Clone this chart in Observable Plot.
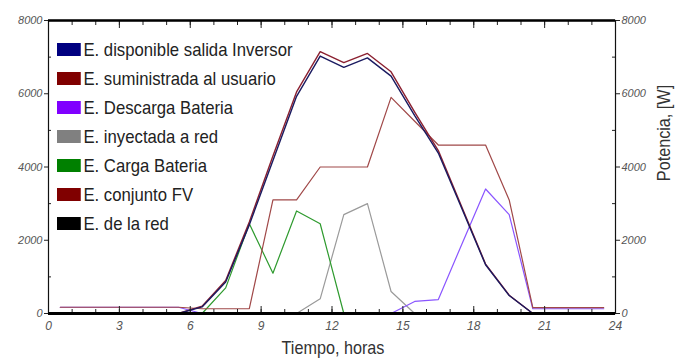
<!DOCTYPE html>
<html><head><meta charset="utf-8">
<script src="https://cdn.jsdelivr.net/npm/d3@7"></script>
<script src="https://cdn.jsdelivr.net/npm/@observablehq/plot@0.6"></script>
<style>
body{margin:0;background:#fff;}
#wrap{position:relative;width:681px;height:358px;overflow:hidden;}
#legend{position:absolute;left:57px;top:35px;font-family:"Liberation Sans",Arial,sans-serif;font-size:19px;color:#222;transform:scaleX(0.88);transform-origin:left top;}
.item{display:flex;align-items:center;height:29px;white-space:nowrap;}
.sw{width:27px;height:13px;margin-right:3px;}
</style></head>
<body><div id="wrap"><div id="legend"></div></div>
<script>
const hours = [0.5,1.5,2.5,3.5,4.5,5.5,6.5,7.5,8.5,9.5,10.5,11.5,12.5,13.5,14.5,15.5,16.5,17.5,18.5,19.5,20.5,21.5,22.5,23.5];
const fv        = [0,0,0,0,0,0,200,900,2500,4300,6050,7150,6850,7100,6600,5500,4450,2900,1350,500,0,0,0,0];
const inversor  = [0,0,0,0,0,0,180,860,2420,4180,5930,7030,6720,6980,6480,5400,4380,2860,1330,490,0,0,0,0];
const usuario   = [170,170,170,170,170,170,130,130,130,3100,3100,4000,4000,4000,5900,5250,4600,4600,4600,3100,160,160,160,160];
const descarga  = [170,170,170,170,170,170,0,0,0,0,0,0,0,0,0,330,380,1900,3400,2700,130,130,130,130];
const inyectada = [0,0,0,0,0,0,0,0,0,0,0,400,2700,3000,600,0,0,0,0,0,0,0,0,0];
const carga     = [0,0,0,0,0,0,0,700,2450,1100,2800,2450,0,0,0,0,0,0,0,0,0,0,0,0];
const red       = [0,0,0,0,0,0,0,0,0,0,0,0,0,0,0,0,0,0,0,0,0,0,0,0];
const xTicks = [0,3,6,9,12,15,18,21,24];
const xMinor = [0,1,2,3,4,5,6,7,8,9,10,11,12,13,14,15,16,17,18,19,20,21,22,23,24];
const yTicks = [0,2000,4000,6000,8000];
const yMinor = [1000,3000,5000,7000];

const legendItems = [
  {name:"E. disponible salida Inversor", color:"#000080"},
  {name:"E. suministrada al usuario", color:"#800000"},
  {name:"E. Descarga Bateria", color:"#8000ff"},
  {name:"E. inyectada a red", color:"#808080"},
  {name:"E. Carga Bateria", color:"#008000"},
  {name:"E. conjunto FV", color:"#800000"},
  {name:"E. de la red", color:"#000000"}
];
const series = [
  {name:"E. inyectada a red", color:"#9a9a9a", values:inyectada, w:1.2},
  {name:"E. Carga Bateria", color:"#2e9a2e", values:carga, w:1.2},
  {name:"E. Descarga Bateria", color:"#8a55ff", values:descarga, w:1.2},
  {name:"E. suministrada al usuario", color:"#a04848", values:usuario, w:1.2},
  {name:"E. conjunto FV", color:"#8b2030", values:fv, w:1.4},
  {name:"E. disponible salida Inversor", color:"#1a1a60", values:inversor, w:1.4},
  {name:"E. de la red", color:"#000000", values:red, w:3}
];
const rows = series.flatMap(s => hours.map((h,i)=>({serie:s.name, h, v:s.values[i]})));
const font = '"Liberation Sans",Arial,sans-serif';
const fmt = d => String(d);

const marks = [];
for (const s of series) {
  marks.push(Plot.lineY(rows.filter(r=>r.serie===s.name), {x:"h", y:"v", stroke:s.color, strokeWidth:s.w}));
}
marks.push(
  Plot.axisX({anchor:"bottom", ticks:xMinor, tickSize:-4, tickFormat:()=>"", stroke:"#222"}),
  Plot.axisX({anchor:"top", ticks:xMinor, tickSize:-4, tickFormat:()=>"", stroke:"#222"}),
  Plot.axisX({anchor:"bottom", ticks:xTicks, tickSize:-7, tickPadding:15, tickFormat:fmt, fontStyle:"italic", fill:"#555", fontSize:12, stroke:"#222"}),
  Plot.axisX({anchor:"top", ticks:xTicks, tickSize:-7, tickFormat:()=>"", stroke:"#222"}),
  Plot.axisY({anchor:"left", ticks:yTicks, tickSize:4, tickPadding:2, tickFormat:fmt, fontStyle:"italic", fill:"#555", fontSize:11, stroke:"#222"}),
  Plot.axisY({anchor:"left", ticks:yMinor, tickSize:-3, tickFormat:()=>"", stroke:"#222"}),
  Plot.axisY({anchor:"right", ticks:yTicks, tickSize:4, tickPadding:2, tickFormat:fmt, fontStyle:"italic", fill:"#555", fontSize:11, stroke:"#222"}),
  Plot.axisY({anchor:"right", ticks:yMinor, tickSize:-4, tickFormat:()=>"", stroke:"#222"}),
  Plot.frame({stroke:"#111", strokeWidth:1.2}),
  Plot.ruleY([8000], {stroke:"#000", strokeWidth:2.5}),
  Plot.ruleY([0], {stroke:"#000", strokeWidth:3})
);

const chart = Plot.plot({
  width:681, height:358,
  marginLeft:48, marginRight:66, marginTop:20, marginBottom:45,
  style:{fontFamily:font, background:"#fff"},
  x:{domain:[0,24], label:null},
  y:{domain:[0,8000], label:null},
  marks
});
const wrap = document.getElementById("wrap");
wrap.insertBefore(chart, wrap.firstChild);

const svg = d3.select(chart);
svg.append("text").attr("transform","translate(333,354) scale(0.9,1)").attr("text-anchor","middle")
  .attr("font-family",font).attr("font-size",18).attr("fill","#333").text("Tiempo, horas");
svg.append("text").attr("transform","translate(670,133) rotate(-90) scale(0.9,1)").attr("text-anchor","middle")
  .attr("font-family",font).attr("font-size",18).attr("fill","#333").text("Potencia, [W]");

const leg = d3.select("#legend");
for (const it of legendItems) {
  const d = leg.append("div").attr("class","item");
  d.append("div").attr("class","sw").style("background",it.color);
  d.append("span").text(it.name);
}
</script></body></html>
